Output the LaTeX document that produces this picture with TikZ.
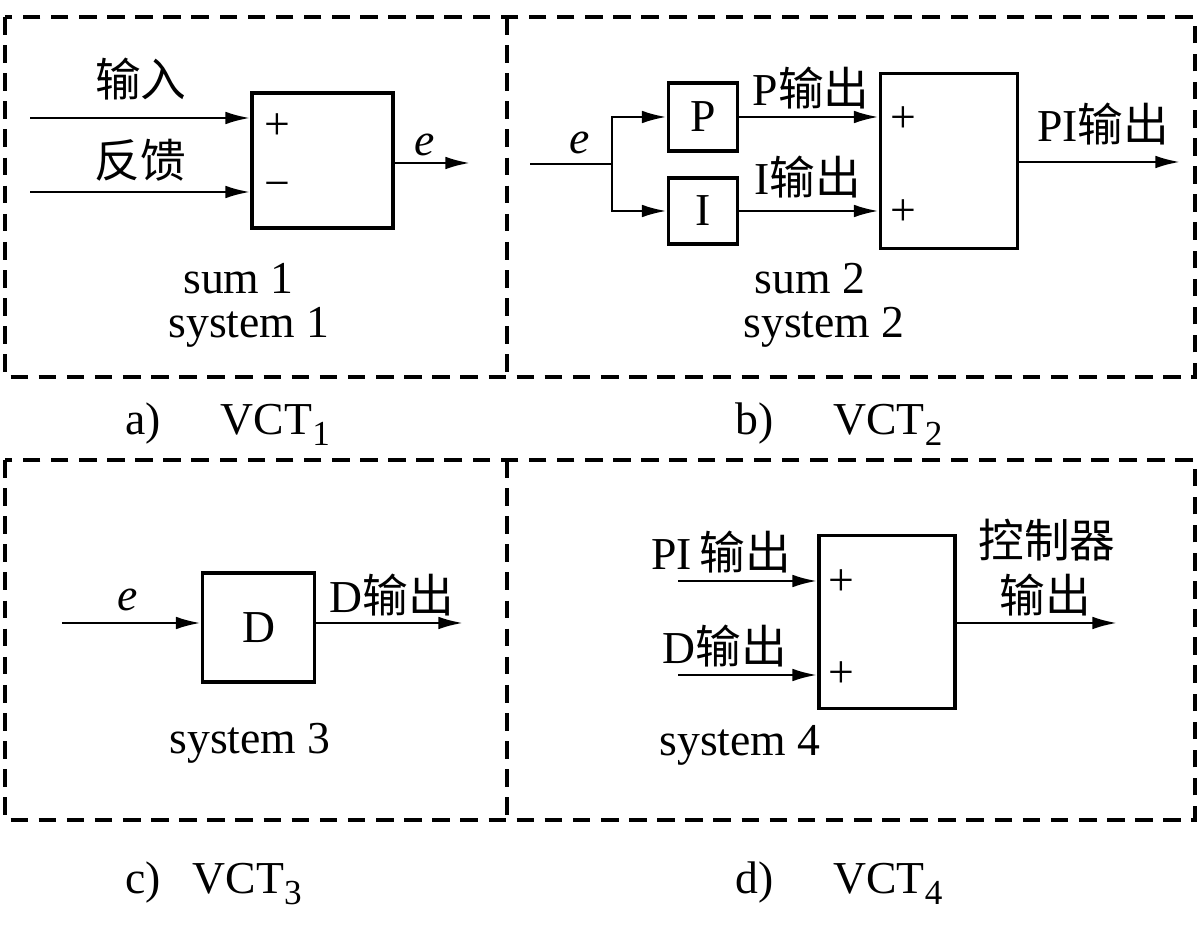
\documentclass[tikz,border=0pt]{standalone}
\usepackage{fontspec}
\setmainfont{Liberation Serif}
\newfontfamily\cjk{Noto Sans CJK SC}
\usetikzlibrary{arrows.meta,positioning}

\newcommand{\zh}[1]{{\cjk #1}}
\newcommand{\vsub}[1]{\raisebox{-0.5ex}{\fontsize{10}{12}\selectfont #1}}

\tikzset{
  blk/.style={draw, line width=1.1pt, inner sep=0pt},
  sig/.style={line width=0.75pt, -{Latex[length=7pt,width=3.6pt]}},
  frame/.style={line width=0.9pt, dash pattern=on 5pt off 3pt},
  captxt/.style={anchor=base west, inner sep=0pt},
  twoline/.style={align=center, font=\fontsize{13}{12.5}\selectfont}
}

\begin{document}
\begin{tikzpicture}[font=\fontsize{13}{15}\selectfont, every node/.style={inner sep=0pt}]
	%\draw[help lines] (0,0) grid (12,-9.27);
	\useasboundingbox (0,0) rectangle (12,-9.27);

	\draw[frame] (0.05,-0.17) rectangle (11.95,-3.77);
	\draw[frame] (5.07,-0.17) -- (5.07,-3.77);
	\draw[frame] (0.05,-4.60) rectangle (11.95,-8.20);
	\draw[frame] (5.07,-4.60) -- (5.07,-8.20);

	% a) VCT1
	\node[blk, minimum width=1.41cm, minimum height=1.35cm] (sum1) at (3.225,-1.605) {};
	\coordinate (in1) at (0.30,-1.18);
	\coordinate (in2) at (0.30,-1.92);
	\coordinate (e1) at (4.70,-1.63);
	\draw[sig] (in1) -- (sum1.west |- in1);
	\draw[sig] (in2) -- (sum1.west |- in2);
	\draw[sig] (sum1.east |- e1) -- (e1);
	\node (lin) at (1.41,-0.79) {\zh{输入}};
	\node (lfb) at (1.40,-1.60) {\zh{反馈}};
	\node (p11) at (2.77,-1.27) {+};
	\node (m12) at (2.77,-1.90) {−};
	\node (le1) at (4.25,-1.45) {\textit{e}};
	\node[twoline] (sys1) at (2.49,-3.05) {sum 1\hspace*{6pt}\\system 1};
	\node[captxt] (capa) at (1.25,-4.35) {a)\hspace{17pt}VCT\vsub{1}};

	% b) VCT2
	\node[blk, minimum width=0.69cm, minimum height=0.68cm] (P) at (7.03,-1.17) {P};
	\node[blk, minimum width=0.69cm, minimum height=0.66cm] (I) at (7.03,-2.11) {I};
	\node[blk, minimum width=1.37cm, minimum height=1.75cm] (sum2) at (9.49,-1.61) {};
	\coordinate (e2) at (5.30,-1.64);
	\coordinate (br) at (6.12,-1.64);
	\coordinate (pi2) at (11.80,-1.62);
	\draw[line width=0.75pt] (e2) -- (br);
	\draw[sig] (br) |- (P.west);
	\draw[sig] (br) |- (I.west);
	\draw[sig] (P.east) -- (sum2.west |- P.east);
	\draw[sig] (I.east) -- (sum2.west |- I.east);
	\draw[sig] (sum2.east |- pi2) -- (pi2);
	\node (le2) at (5.80,-1.43) {\textit{e}};
	\node (lp) at (8.11,-0.88) {P\zh{输出}};
	\node (li) at (8.08,-1.77) {I\zh{输出}};
	\node (lpi) at (11.03,-1.24) {PI\zh{输出}};
	\node (p21) at (9.03,-1.20) {+};
	\node (p22) at (9.03,-2.13) {+};
	\node[twoline] (sys2) at (8.24,-3.05) {sum 2\hspace*{8pt}\\system 2};
	\node[captxt] (capb) at (7.35,-4.35) {b)\hspace{17pt}VCT\vsub{2}};

	% c) VCT3
	\node[blk, minimum width=1.12cm, minimum height=1.09cm] (D) at (2.585,-6.275) {D};
	\coordinate (e3) at (0.62,-6.23);
	\coordinate (d3) at (4.63,-6.23);
	\draw[sig] (e3) -- (D.west |- e3);
	\draw[sig] (D.east |- d3) -- (d3);
	\node (le3) at (1.28,-6.00) {\textit{e}};
	\node (ld) at (3.92,-5.95) {D\zh{输出}};
	\node (sys3) at (2.50,-7.43) {system 3};
	\node[captxt] (capc) at (1.25,-8.94) {c)\hspace{9pt}VCT\vsub{3}};

	% d) VCT4
	\node[blk, minimum width=1.36cm, minimum height=1.73cm] (sum4) at (8.87,-6.22) {};
	\coordinate (in41) at (6.78,-5.81);
	\coordinate (in42) at (6.78,-6.75);
	\coordinate (u4) at (11.17,-6.23);
	\draw[sig] (in41) -- (sum4.west |- in41);
	\draw[sig] (in42) -- (sum4.west |- in42);
	\draw[sig] (sum4.east |- u4) -- (u4);
	\node (lpi4) at (7.21,-5.52) {PI\,\zh{输出}};
	\node (ld4) at (7.25,-6.46) {D\zh{输出}};
	\node (p41) at (8.41,-5.83) {+};
	\node (p42) at (8.41,-6.75) {+};
	\node (lu1) at (10.47,-5.40) {\zh{控制器}};
	\node (lu2) at (10.45,-5.95) {\zh{输出}};
	\node (sys4) at (7.40,-7.45) {system 4};
	\node[captxt] (capd) at (7.35,-8.94) {d)\hspace{17pt}VCT\vsub{4}};
\end{tikzpicture}
\end{document}
